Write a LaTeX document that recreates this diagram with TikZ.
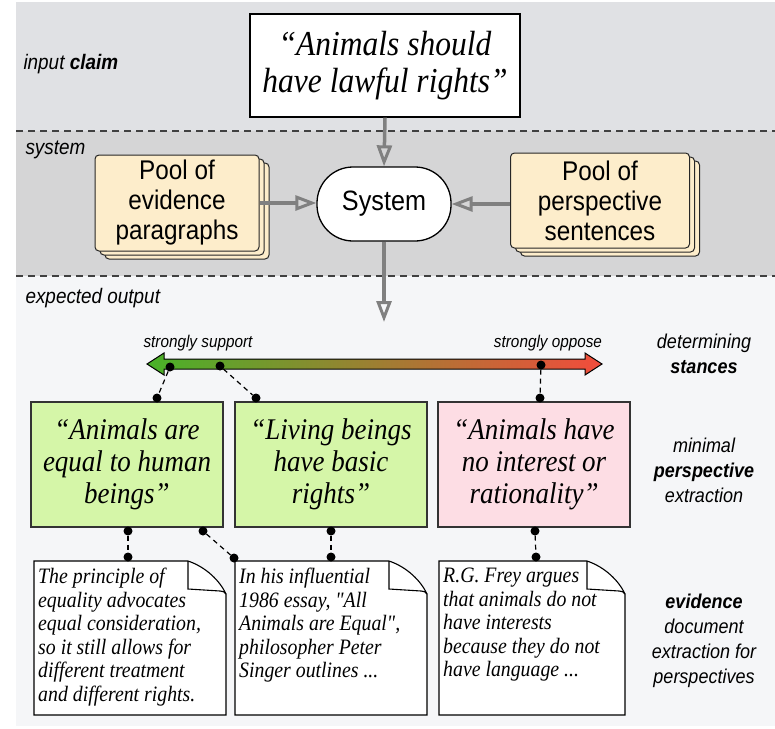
\documentclass[tikz,border=0pt]{standalone}
\usepackage{fontspec}
\setmainfont{Liberation Serif}[FakeStretch=0.9]
\setsansfont{Liberation Sans}[FakeStretch=0.9]
\newfontfamily\docfont{Liberation Serif}[Ligatures=TeXOff, FakeStretch=0.9]
\usetikzlibrary{arrows.meta,shadows}

\definecolor{bandtop}{RGB}{224,225,228}
\definecolor{bandsys}{RGB}{213,213,214}
\definecolor{bandout}{RGB}{245,246,248}
\definecolor{poolfill}{RGB}{253,237,203}
\definecolor{agree}{RGB}{213,246,168}
\definecolor{disagree}{RGB}{253,221,228}
\definecolor{barleft}{RGB}{72,178,40}
\definecolor{barright}{RGB}{242,76,60}

% folded-corner document outline: left, top, right, bottom
\newcommand{\docsheet}[4]{%
  \draw[docline, fill=white] (#1,#2) -- (#3-38,#2)
    .. controls (#3-20,#2+6) and (#3-6,#2+20) .. (#3,#2+33) -- (#3,#4) -- (#1,#4) -- cycle;
  \draw[docline] (#3-38,#2) -- (#3-38,#2+28) -- (#3-6,#2+30)
    .. controls (#3-3,#2+30) and (#3-1,#2+31) .. (#3,#2+33);
}

\begin{document}
\begin{tikzpicture}[
  x=1pt, y=-1pt,
  font=\sffamily,
  sep/.style={dash pattern=on 7pt off 5pt, line width=1.5pt, black!75},
  flow/.style={draw=black!50, line width=3.5pt, -{Triangle[open, length=21pt, width=15pt, line width=3pt]}},
  band/.style={font=\sffamily\itshape\fontsize{21}{24}\selectfont, anchor=west},
  side/.style={font=\sffamily\itshape\fontsize{20}{25}\selectfont, align=center},
  pool/.style={draw=black!85, line width=1pt, fill=poolfill, rounded corners=4pt, align=center,
    font=\sffamily\fontsize{27}{30}\selectfont,
    double copy shadow={shadow xshift=5pt, shadow yshift=-4pt}},
  persp/.style={draw=black!80, line width=1.2pt, minimum width=192pt, minimum height=125pt,
    align=center, font=\rmfamily\itshape\fontsize{30}{32}\selectfont},
  doctext/.style={anchor=north west, align=left, inner sep=0pt,
    font=\docfont\itshape\fontsize{22}{23.5}\selectfont},
  docline/.style={draw=black, line width=1.1pt},
  dot/.style={circle, fill=black, inner sep=0pt, minimum size=9pt},
  link/.style={dash pattern=on 5pt off 4pt, line width=1.2pt},
]
\useasboundingbox (0,0) rectangle (775,728);

% -- bands --
\fill[bandtop] (16,2) rectangle (775,131);
\fill[bandsys] (16,131) rectangle (775,276);
\fill[bandout] (16,276) rectangle (775,726);
\draw[sep] (16,131) -- (775,131);
\draw[sep] (16,276) -- (775,276);

\node[band] (lclaim) at (20,64) {input \textbf{claim}};
\node[band] (lsys) at (22,150) {system};
\node[band] (lout) at (22,298) {expected output};

% -- input and system --
\node[draw, line width=1.3pt, fill=white, minimum width=270pt, minimum height=103pt, align=center,
  font=\rmfamily\itshape\fontsize{35}{37}\selectfont] (claim) at (385,65.5) {“Animals should\\have lawful rights”};
\node[draw, line width=1.3pt, fill=white, rounded corners=36pt, minimum width=134pt, minimum height=74pt,
  font=\sffamily\fontsize{28}{30}\selectfont] (sys) at (384,204) {System};
\node[pool, minimum width=164pt, minimum height=96pt] (poolL) at (177,203) {Pool of\\evidence\\paragraphs};
\node[pool, minimum width=179pt, minimum height=95pt] (poolR) at (600,200.5) {Pool of\\perspective\\sentences};

\draw[flow] (claim.south) -- (sys.north);
\draw[flow] (poolL.east) -- (poolL.east -| sys.west);
\draw[flow] (sys.east -| poolR.west) -- (sys.east);
\coordinate (outtip) at (384,322);
\draw[flow] (sys.south) -- (outtip);

% -- stance bar --
\shade[left color=barleft, right color=barright, draw=black, line width=1pt]
  (147,364) -- (164,353) -- (164,359) -- (585,359) -- (585,353) -- (602,364)
  -- (585,375) -- (585,369) -- (164,369) -- (164,375) -- cycle;
\node[font=\sffamily\itshape\fontsize{17}{19}\selectfont] (ssup) at (198,343) {strongly support};
\node[font=\sffamily\itshape\fontsize{17}{19}\selectfont] (sopp) at (548,343) {strongly oppose};
\node[side] (lstance) at (704,354) {determining\\\textbf{stances}};

% -- perspectives --
\node[persp, fill=agree] (p1) at (127,464.5) {“Animals are\\equal to human\\beings”};
\node[persp, fill=agree] (p2) at (331,464.5) {“Living beings\\have basic\\rights”};
\node[persp, fill=disagree] (p3) at (534,464.5) {“Animals have\\no interest or\\rationality”};
\node[side] (lpersp) at (704,470) {minimal\\\textbf{perspective}\\extraction};

% -- evidence documents --
\docsheet{34}{561}{226}{715}
\docsheet{235}{561}{427}{715}
\docsheet{439}{561}{625}{715}
\node[doctext] (e1) at (38,568) {The principle of\\equality advocates\\equal consideration,\\so it still allows for\\different treatment\\and different rights.};
\node[doctext] (e2) at (239,568) {In his influential\\1986 essay, "All\\Animals are Equal",\\philosopher Peter\\Singer outlines ...};
\node[doctext] (e3) at (443,568) {R.G. Frey argues\\that animals do not\\have interests\\because they do not\\have language ...};
\node[side] (levid) at (704,641) {\textbf{evidence}\\document\\extraction for\\perspectives};

% -- stance links --
\node[dot] (b1) at (170,367) {};
\node[dot] (b2) at (220,366) {};
\node[dot] (b3) at (541,365) {};
\node[dot] (t1) at (157,398) {};
\node[dot] (t2) at (256,398) {};
\node[dot] (t3) at (540,398) {};
\draw[link] (b1) -- (t1);
\draw[link] (b2) -- (t2);
\draw[link] (b3) -- (t3);

% -- evidence links --
\node[dot] (u1) at (128,531) {};
\node[dot] (u1b) at (203,531) {};
\node[dot] (u2) at (331,531) {};
\node[dot] (u3) at (535,531) {};
\node[dot] (v1) at (128,557) {};
\node[dot] (v2) at (234,558) {};
\node[dot] (v2b) at (331,557) {};
\node[dot] (v3) at (536,557) {};
\draw[link] (u1) -- (v1);
\draw[link] (u1b) -- (v2);
\draw[link] (u2) -- (v2b);
\draw[link] (u3) -- (v3);

\end{tikzpicture}
\end{document}
